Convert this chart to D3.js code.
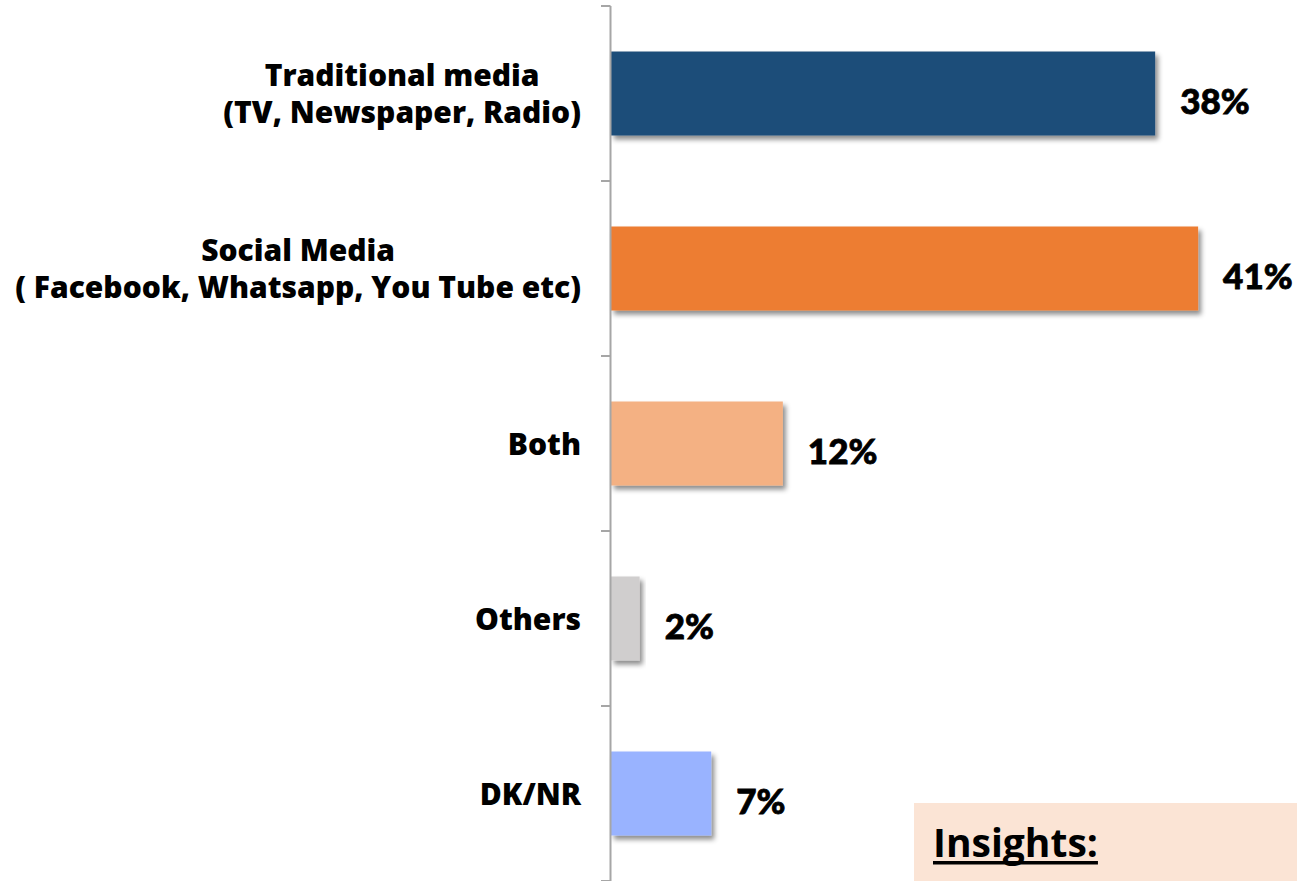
<!DOCTYPE html>
<html>
<head>
<meta charset="utf-8">
<script src="https://cdn.jsdelivr.net/npm/d3@7"></script>
<style>
  html, body { margin: 0; padding: 0; background: #fff; }
  svg { display: block; }
</style>
</head>
<body>
<svg id="chart" width="1297" height="881"></svg>
<script>
// Media source shares (%)
const categories = [
  ["Traditional media", "(TV, Newspaper, Radio)"],
  ["Social Media", "( Facebook, Whatsapp, You Tube etc)"],
  ["Both"],
  ["Others"],
  ["DK/NR"]
];
const values = [38, 41, 12, 2, 7];
const valueLabels = ["38%", "41%", "12%", "2%", "7%"];
const barColors = ["#1F4E79", "#ED7D31", "#F4B183", "#D0CECE", "#99B3FF"];
const noteTitle = "Insights:";

const W = 1297, H = 881;
const svg = d3.select("#chart");

const keys = categories.map(c => c.join(" "));

const y = d3.scaleBand()
  .domain(keys)
  .range([6, H])
  .paddingInner(0.52)
  .paddingOuter(0.26);

const x = d3.scaleLinear()
  .domain([0, 45])
  .range([611, 611 + 45 * 14.32]);

// soft drop shadow under each bar
const defs = svg.append("defs");
const f = defs.append("filter").attr("id", "shadow")
  .attr("x", "-10%").attr("y", "-10%").attr("width", "130%").attr("height", "140%");
f.append("feDropShadow")
  .attr("dx", 3).attr("dy", 4).attr("stdDeviation", 2.5)
  .attr("flood-color", "#000").attr("flood-opacity", 0.45);

// bars
svg.append("g").selectAll("rect")
  .data(values)
  .join("rect")
  .attr("x", x(0))
  .attr("y", (d, i) => y(keys[i]))
  .attr("width", d => x(d) - x(0))
  .attr("height", y.bandwidth())
  .attr("fill", (d, i) => barColors[i])
  .attr("filter", "url(#shadow)");

// category axis: vertical line with ticks at band boundaries
const axis = svg.append("g");
const [r0, r1] = y.range();
axis.append("line")
  .attr("x1", x(0) - 0.5).attr("x2", x(0) - 0.5)
  .attr("y1", r0).attr("y2", r1)
  .attr("stroke", "#A6A6A6").attr("stroke-width", 2);
const boundaries = d3.range(keys.length + 1).map(i => r0 + i * y.step());
axis.selectAll("line.tick")
  .data(boundaries)
  .join("line")
  .attr("class", "tick")
  .attr("x1", x(0) - 10).attr("x2", x(0) - 0.5)
  .attr("y1", d => d).attr("y2", d => d)
  .attr("stroke", "#A6A6A6").attr("stroke-width", 2);

// category labels: lines centred on each other, block right-aligned to the axis
const labelRight = 581;
const lineGap = 37;
const catFont = "'Open Sans', 'DejaVu Sans', sans-serif";
categories.forEach((lines, i) => {
  const cy = y(keys[i]) + y.bandwidth() / 2;
  const g = svg.append("g");
  const texts = lines.map((t, j) => g.append("text")
    .attr("y", cy + 11 + (j - (lines.length - 1) / 2) * lineGap)
    .attr("font-family", catFont)
    .attr("font-weight", 800)
    .attr("font-size", 30)
    .attr("fill", "#000")
    .text(t));
  const maxW = d3.max(texts, t => t.node().getComputedTextLength());
  texts.forEach(t => t.attr("x", labelRight - maxW / 2).attr("text-anchor", "middle"));
});

// value labels
svg.append("g").selectAll("text")
  .data(values)
  .join("text")
  .attr("x", d => x(d) + 25)
  .attr("y", (d, i) => y(keys[i]) + y.bandwidth() / 2 + 20)
  .attr("font-family", "Lato, 'Open Sans', sans-serif")
  .attr("font-weight", 900)
  .attr("font-size", 35)
  .attr("fill", "#000")
  .attr("stroke", "#000")
  .attr("stroke-width", 0.8)
  .text((d, i) => valueLabels[i]);

// insights box
const box = svg.append("g");
box.append("rect")
  .attr("x", 914).attr("y", 803)
  .attr("width", W - 914).attr("height", H - 803)
  .attr("fill", "#FBE4D5");
const title = box.append("text")
  .attr("x", 933).attr("y", 857)
  .attr("font-family", "'Open Sans', sans-serif")
  .attr("font-weight", 700)
  .attr("font-size", 39)
  .attr("fill", "#000")
  .text(noteTitle);
const tw = title.node().getComputedTextLength();
box.append("rect")
  .attr("x", 933).attr("y", 861)
  .attr("width", tw).attr("height", 3.5)
  .attr("fill", "#000");
</script>
</body>
</html>
